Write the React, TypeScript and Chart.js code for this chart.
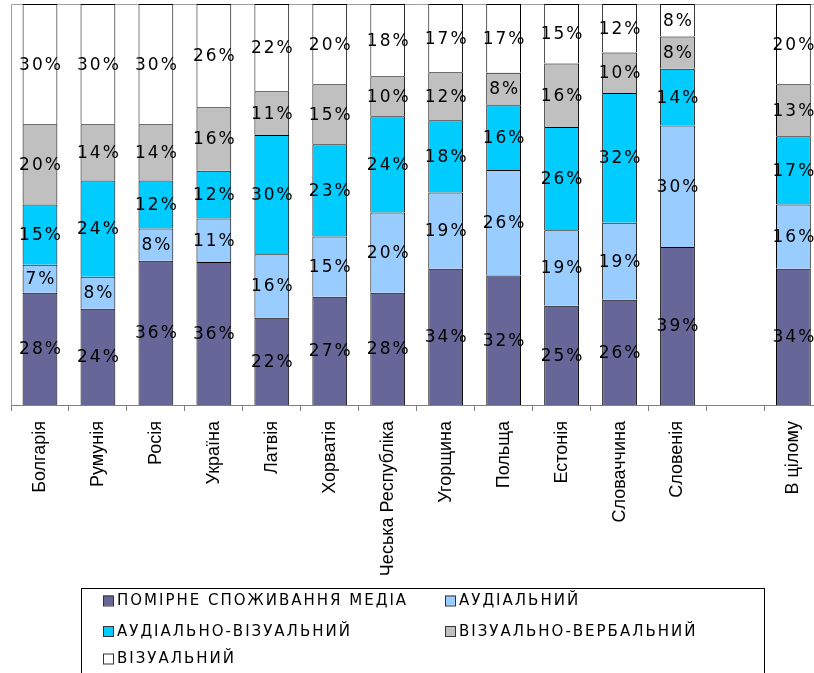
import React, { useEffect, useRef } from "react";
import { Chart, registerables } from "chart.js";

Chart.register(...registerables);

const categories = [
  "Болгарія", "Румунія", "Росія", "Україна", "Латвія", "Хорватія",
  "Чеська Республіка", "Угорщина", "Польща", "Естонія", "Словаччина",
  "Словенія", "", "В цілому",
];

const seriesNames = [
  "ПОМІРНЕ СПОЖИВАННЯ МЕДІА",
  "АУДІАЛЬНИЙ",
  "АУДІАЛЬНО-ВІЗУАЛЬНИЙ",
  "ВІЗУАЛЬНО-ВЕРБАЛЬНИЙ",
  "ВІЗУАЛЬНИЙ",
];

const moderate = [28, 24, 36, 36, 22, 27, 28, 34, 32, 25, 26, 39, null, 34];
const audial = [7, 8, 8, 11, 16, 15, 20, 19, 26, 19, 19, 30, null, 16];
const audioVisual = [15, 24, 12, 12, 30, 23, 24, 18, 16, 26, 32, 14, null, 17];
const visualVerbal = [20, 14, 14, 16, 11, 15, 10, 12, 8, 16, 10, 8, null, 13];
const visual = [30, 30, 30, 26, 22, 20, 18, 17, 17, 15, 12, 8, null, 20];

const seriesValues = [moderate, audial, audioVisual, visualVerbal, visual];
const seriesColors = ["#666699", "#99CCFF", "#00CCFF", "#C0C0C0", "#FFFFFF"];

const totals = categories.map((_, i) =>
  seriesValues.reduce((s, arr) => s + (arr[i] ?? 0), 0)
);

const W = 825;
const H = 673;

const plotFramePlugin = {
  id: "plotFrame",
  beforeDatasetsDraw(chart: any) {
    const { ctx, chartArea } = chart;
    ctx.save();
    ctx.strokeStyle = "#A0A0A0";
    ctx.lineWidth = 1;
    ctx.beginPath();
    ctx.moveTo(Math.round(chartArea.left) + 0.5, chartArea.bottom);
    ctx.lineTo(Math.round(chartArea.left) + 0.5, Math.round(chartArea.top) + 0.5);
    ctx.lineTo(chartArea.right, Math.round(chartArea.top) + 0.5);
    ctx.stroke();
    ctx.restore();
  },
};

const valueLabelPlugin = {
  id: "valueLabels",
  afterDatasetsDraw(chart: any) {
    const { ctx } = chart;
    ctx.save();
    ctx.font = '17px "DejaVu Sans"';
    (ctx as any).letterSpacing = "2px";
    ctx.fillStyle = "#000";
    ctx.textAlign = "center";
    ctx.textBaseline = "middle";
    chart.data.datasets.forEach((ds: any, di: number) => {
      const meta = chart.getDatasetMeta(di);
      meta.data.forEach((el: any, i: number) => {
        const raw = seriesValues[di][i];
        if (raw == null) return;
        const cy = (el.y + el.base) / 2;
        ctx.fillText(raw + "%", el.x + 1, cy + 1);
      });
    });
    ctx.restore();
  },
};

const legendPlugin = {
  id: "customLegend",
  afterDraw(chart: any) {
    const { ctx } = chart;
    ctx.save();
    ctx.strokeStyle = "#000";
    ctx.lineWidth = 1;
    ctx.strokeRect(81.5, 588.5, 683, 120);
    const pos = [
      { sx: 103, tx: 117, y: 600.5 },
      { sx: 445, tx: 459, y: 600.5 },
      { sx: 103, tx: 117, y: 631 },
      { sx: 445, tx: 459, y: 631 },
      { sx: 103, tx: 117, y: 658.5 },
    ];
    ctx.font = '15px "DejaVu Sans"';
    (ctx as any).letterSpacing = "2px";
    ctx.textAlign = "left";
    ctx.textBaseline = "middle";
    seriesNames.forEach((name, i) => {
      const p = pos[i];
      ctx.fillStyle = seriesColors[i];
      ctx.fillRect(p.sx, p.y - 5, 10, 10);
      ctx.strokeStyle = "#333";
      ctx.strokeRect(p.sx + 0.5, p.y - 4.5, 10, 10);
      ctx.fillStyle = "#000";
      ctx.fillText(name, p.tx, p.y + 1);
    });
    ctx.restore();
  },
};

export default function App() {
  const ref = useRef<HTMLCanvasElement | null>(null);

  useEffect(() => {
    if (!ref.current) return;
    const chart = new Chart(ref.current, {
      type: "bar",
      data: {
        labels: categories,
        datasets: seriesNames.map((name, di) => ({
          label: name,
          data: seriesValues[di].map((v, i) =>
            v == null ? null : (v / totals[i]) * 100
          ),
          backgroundColor: seriesColors[di],
          borderColor: "#000",
          borderWidth: 1,
          borderSkipped: "start",
          barPercentage: 0.6,
          categoryPercentage: 1,
        })),
      },
      options: {
        animation: false,
        responsive: false,
        maintainAspectRatio: false,
        devicePixelRatio: 1,
        layout: { padding: { left: 11, top: 4, right: 0, bottom: 0 } },
        plugins: {
          legend: { display: false },
          tooltip: { enabled: false },
          title: { display: false },
        },
        scales: {
          x: {
            stacked: true,
            offset: true,
            afterFit(scale: any) {
              scale.height = H - 405;
            },
            grid: {
              display: true,
              drawOnChartArea: false,
              drawTicks: true,
              tickLength: 6,
              color: "#808080",
              offset: true,
            },
            border: { display: true, color: "#808080" },
            ticks: {
              autoSkip: false,
              minRotation: 90,
              maxRotation: 90,
              padding: 10,
              color: "#000",
              font: { family: '"Liberation Sans", Arial, sans-serif', size: 18 },
            },
          },
          y: {
            stacked: true,
            min: 0,
            max: 100,
            display: false,
          },
        },
      },
      plugins: [plotFramePlugin, valueLabelPlugin, legendPlugin],
    });
    return () => chart.destroy();
  }, []);

  return (
    <div
      style={{
        position: "fixed",
        left: 0,
        top: 0,
        width: 814,
        height: 673,
        overflow: "hidden",
        background: "#fff",
      }}
    >
      <canvas ref={ref} width={W} height={H} style={{ width: W, height: H, display: "block" }} />
    </div>
  );
}
